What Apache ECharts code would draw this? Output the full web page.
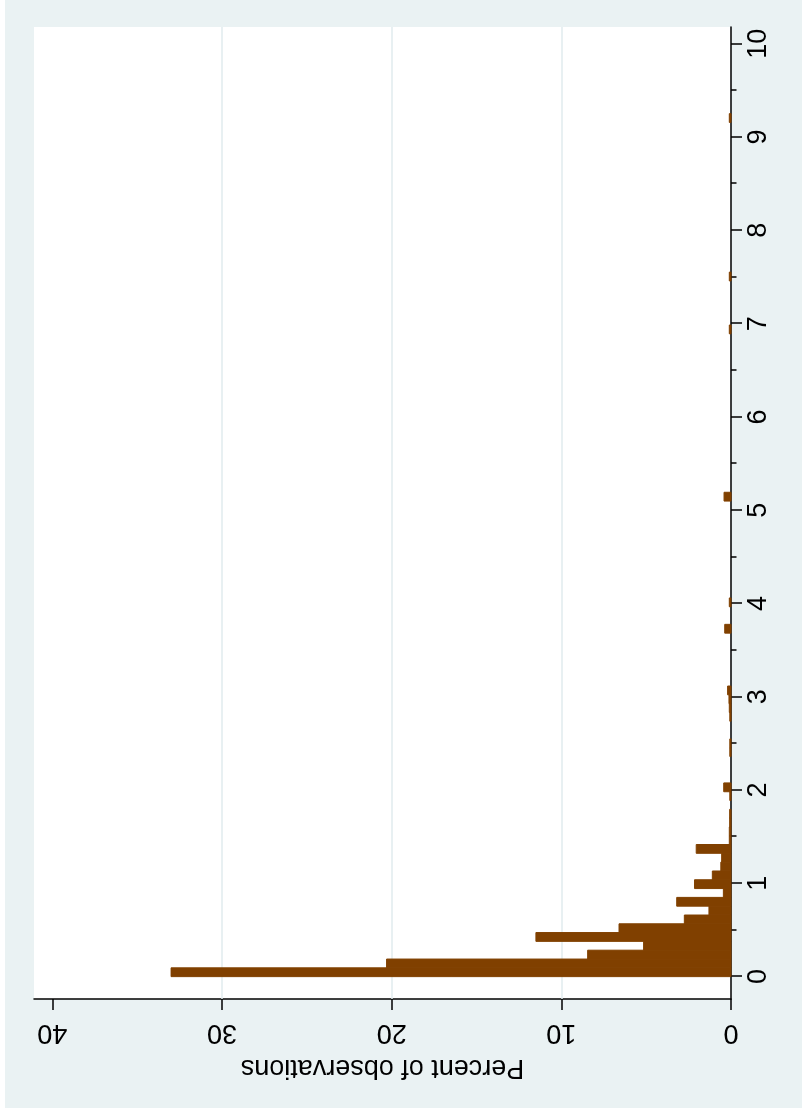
<!DOCTYPE html>
<html>
<head>
<meta charset="utf-8">
<script src="https://cdn.jsdelivr.net/npm/echarts@6/dist/echarts.min.js"></script>
<style>
    html, body { margin: 0; padding: 0; background: #fff; overflow: hidden; }
    /* the Stata graph is drawn landscape and turned a quarter turn counter-clockwise */
    #hist {
        position: absolute;
        left: 5px;
        top: 1108px;
        width: 1108px;
        height: 797px;
        transform-origin: 0 0;
        transform: rotate(-90deg);
    }
</style>
</head>
<body>
<div id="hist"></div>
<script>
// histogram bins (lower edge of each non-empty bin) and percent of observations
var binWidth = 0.0944;
var binLow = [0.000, 0.094, 0.189, 0.283, 0.378, 0.472, 0.566, 0.661, 0.755, 0.850,
              0.944, 1.038, 1.133, 1.227, 1.322, 1.416, 1.510, 1.605, 1.699, 1.888,
              1.982, 2.360, 2.454, 2.738, 2.832, 2.926, 3.021, 3.682, 3.965, 5.098,
              6.891, 7.458, 9.157];
var percent = [33.0, 20.3, 8.45, 5.15, 11.5, 6.6, 2.75, 1.3, 3.2, 0.45,
               2.15, 1.1, 0.6, 0.55, 2.05, 0.1, 0.1, 0.08, 0.08, 0.07,
               0.43, 0.07, 0.07, 0.07, 0.1, 0.12, 0.2, 0.37, 0.1, 0.41,
               0.1, 0.1, 0.1];
var xMajor = [0, 1, 2, 3, 4, 5, 6, 7, 8, 9, 10];
var xMinor = [0.5, 1.5, 2.5, 3.5, 4.5, 5.5, 6.5, 7.5, 8.5, 9.5];
var yTicks = [0, 10, 20, 30, 40];
var yGrid = [10, 20, 30];

var font = 'Liberation Sans, Arial, sans-serif';
var barColor = '#804000';

var data = binLow.map(function (lo, i) {
    return [lo, lo + binWidth, percent[i]];
});

var chart = echarts.init(document.getElementById('hist'));
chart.setOption({
    animation: false,
    backgroundColor: '#eaf2f3',
    grid: {
        left: 109, right: 27, top: 29, bottom: 71,
        show: true, backgroundColor: '#fff', borderWidth: 0
    },
    xAxis: [{
        type: 'value',
        min: -0.24,
        max: 10.18,
        position: 'bottom',
        axisLine: { show: true, onZero: false, lineStyle: { color: '#000', width: 1.5 } },
        axisTick: { show: true, length: 11, customValues: xMajor, lineStyle: { color: '#000', width: 1.5 } },
        axisLabel: { customValues: xMajor, fontSize: 27, fontFamily: font, color: '#000', margin: 14 },
        splitLine: { show: false }
    }, {
        type: 'value',
        min: -0.24,
        max: 10.18,
        position: 'bottom',
        axisLine: { show: false, onZero: false },
        axisTick: { show: true, length: 5.5, customValues: xMinor, lineStyle: { color: '#000', width: 1.5 } },
        axisLabel: { show: false },
        splitLine: { show: false }
    }],
    yAxis: {
        type: 'value',
        min: 0,
        max: 41.08,
        position: 'left',
        name: 'Percent of observations',
        nameLocation: 'middle',
        nameGap: 55,
        nameRotate: 90,
        nameMoveOverlap: false,
        nameTextStyle: { fontSize: 27, fontFamily: font, color: '#000' },
        axisLine: { show: true, onZero: false, lineStyle: { color: '#000', width: 1.5 } },
        axisTick: { show: true, length: 11, customValues: yTicks, lineStyle: { color: '#000', width: 1.5 } },
        axisLabel: { customValues: yTicks, rotate: 90, fontSize: 27, fontFamily: font, color: '#000', margin: 20 },
        splitLine: { show: false }
    },
    series: [{
        type: 'custom',
        z: 6,
        xAxisIndex: 0,
        encode: { x: [0, 1], y: 2 },
        data: data,
        renderItem: function (params, api) {
            var p0 = api.coord([api.value(0), api.value(2)]);
            var p1 = api.coord([api.value(1), 0]);
            return {
                type: 'rect',
                shape: { x: p0[0], y: p0[1], width: p1[0] - p0[0], height: p1[1] - p0[1] },
                style: { fill: barColor, stroke: barColor, lineWidth: 1 }
            };
        },
        markLine: {
            silent: true,
            z: 1,
            symbol: 'none',
            label: { show: false },
            lineStyle: { color: '#e1ebee', width: 1.5, type: 'solid' },
            data: yGrid.map(function (v) { return { yAxis: v }; })
        }
    }]
});
</script>
</body>
</html>
